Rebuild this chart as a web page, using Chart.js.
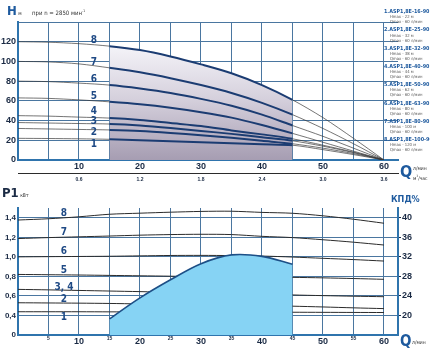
<!DOCTYPE html>
<html><head><meta charset="utf-8">
<script src="https://cdn.jsdelivr.net/npm/chart.js@4/dist/chart.umd.min.js"></script>
<style>
html,body{margin:0;padding:0;background:#fff;width:430px;height:353px;overflow:hidden;font-family:'DejaVu Sans',sans-serif;font-stretch:condensed}
#c1{position:absolute;left:0;top:0}
#c2{position:absolute;left:0;top:0}
.t{position:absolute;white-space:nowrap;color:#1e5a9e;font-weight:bold;line-height:1}
.n{position:absolute;color:#1f4a85;font-weight:bold;font-size:10px;line-height:1;transform:translate(-50%,-50%)}
.lg{position:absolute;left:384px;line-height:1;white-space:nowrap;font-family:'DejaVu Sans',sans-serif;font-stretch:condensed}
.lg b{display:block;color:#1e5a9e;font-size:5.4px}
.lg span{display:block;color:#555;font-size:4.2px;padding-left:6px;margin-top:0.8px}
</style></head><body>
<div style="position:absolute;left:0;top:0;width:430px;height:187px"><canvas id="c1" width="430" height="187"></canvas></div>
<div style="position:absolute;left:0;top:187px;width:430px;height:166px"><canvas id="c2" width="430" height="166"></canvas></div>
<div id="ann"></div>
<script>
// ---- data ----
const flowQ = [0,5,10,15,20,25,30,35,40,45,50,55,60];
const head1 = [22,21.8,21.5,21,20,19,18,17,16,15,10.5,5.5,0];
const head2 = [32,31.5,31,30.5,29.5,27.5,25,22.5,19.5,16.5,12,6.5,0];
const head3 = [38,37.5,37,36.5,35,32.5,29.5,26.5,23,19.5,14,7.5,0];
const head4 = [45,44.5,43.5,42.5,40.5,37.5,34.5,30,26,21.5,15,8,0];
const head5 = [63,62.5,61,59,56.5,53,48.5,43,35.5,27,18,9,0];
const head6 = [80,79.5,78,76,72.5,68,62,55,46,35,24,12,0];
const head7 = [100,99.5,97.5,93.5,89,83,76,68,58,46,32,16.5,0];
const head8 = [120,119.5,118,115.5,111.5,105,97,88,76,61,43,22,0];
const power1 = [0.438,0.438,0.438,0.437,0.436,0.436,0.435,0.435,0.434,0.433,0.432,0.431,0.43];
const power2 = [0.53,0.528,0.526,0.523,0.518,0.512,0.506,0.503,0.5,0.495,0.487,0.478,0.47];
const power34 = [0.667,0.662,0.656,0.65,0.644,0.638,0.633,0.628,0.62,0.61,0.603,0.597,0.592];
const power5 = [0.82,0.817,0.814,0.81,0.806,0.802,0.797,0.795,0.792,0.79,0.785,0.778,0.77];
const power6 = [1.0,1.002,1.004,1.006,1.01,1.014,1.015,1.013,1.008,0.998,0.985,0.972,0.957];
const power7 = [1.187,1.197,1.205,1.213,1.222,1.228,1.231,1.228,1.21,1.197,1.175,1.15,1.121];
const power8 = [1.377,1.39,1.41,1.436,1.447,1.457,1.465,1.467,1.455,1.446,1.42,1.385,1.344];
const effQ = [15,20,25,30,35,40,45];
const effVal = [19.3,23.6,27.3,30.6,32.4,32.1,30.5];
const models = ['16-90','25-90','32-90','40-90','50-90','63-90','80-90','100-90'];
const hmax = [22,32,38,44,62,80,100,120];
const qmax = [60,60,60,60,60,60,60,60];

const FONT = "'Liberation Sans','Arial',sans-serif";
const GRID = '#4a76a0';
const AXIS = '#2f74ad';
const TXT = '#1a2a44';
const pts = (xs, ys) => xs.map((x,i)=>({x, y: ys[i]}));
const slice = (xs, ys, a, b) => pts(xs, ys).filter(p => p.x >= a && p.x <= b);

const heads = [head1,head2,head3,head4,head5,head6,head7,head8];
const topSets = [];
heads.forEach(h => topSets.push({
  data: pts(flowQ, h), pointRadius: 0, fill: false, tension: 0.3,
  borderColor: '#1b3c72', borderWidth: 2,
  segment: {
    borderWidth: c => (c.p0.parsed.x >= 15 && c.p1.parsed.x <= 45) ? 2 : 0.7,
    borderColor: c => (c.p0.parsed.x >= 15 && c.p1.parsed.x <= 45) ? '#1b3c72' : '#3a3a3a'
  }
}));
topSets.push({
  data: slice(flowQ, head8, 15, 45), borderWidth: 0, pointRadius: 0, fill: 'origin', tension: 0.3,
  backgroundColor: (c) => {
    const ch = c.chart, a = ch.chartArea; if (!a) return '#ccc';
    const yTop = ch.scales.y.getPixelForValue(115);
    const g = ch.ctx.createLinearGradient(0, yTop, 0, a.bottom);
    g.addColorStop(0, '#f4f3f8'); g.addColorStop(0.45, '#d6d1dd'); g.addColorStop(1, '#a69db2');
    return g;
  }
});

new Chart(document.getElementById('c1'), {
  type: 'line',
  data: { datasets: topSets },
  options: {
    responsive: false, animation: false, events: [],
    layout: { padding: { top: 22, right: 32, left: 0, bottom: 2 } },
    plugins: { legend: { display: false }, tooltip: { enabled: false } },
    scales: {
      x: {
        type: 'linear', min: 0, max: 62.3, position: 'bottom',
        afterBuildTicks: s => { s.ticks = [0,5,10,15,20,25,30,35,40,45,50,55,60].map(v=>({value:v})); },
        afterFit: s => { s.height = 13; },
        ticks: { color: TXT, font: { family: FONT, size: 9, weight: 'bold' }, padding: 1, maxRotation: 0, autoSkip: false,
          callback: v => (v % 10 === 0 && v > 0) ? String(v) : '' },
        grid: { color: GRID, lineWidth: 1, drawTicks: false },
        border: { color: AXIS, width: 2 }
      },
      x2: {
        type: 'linear', min: 0, max: 62.3, position: 'bottom',
        afterBuildTicks: s => { s.ticks = [10,20,30,40,50,60].map(v=>({value:v})); },
        afterFit: s => { s.height = 12; },
        ticks: { color: TXT, font: { family: FONT, size: 5, weight: 'bold' }, padding: 4, maxRotation: 0, autoSkip: false,
          callback: v => (v * 0.06).toFixed(1) },
        grid: { display: false, drawTicks: false },
        border: { color: '#2b2b2b', width: 1 }
      },
      y: {
        type: 'linear', min: 0, max: 140,
        afterBuildTicks: s => { const t=[]; for (let v=0; v<=140; v+=10) t.push({value:v}); s.ticks = t; },
        afterFit: s => { s.width = 18; },
        ticks: { color: TXT, font: { family: FONT, size: 9, weight: 'bold' }, padding: 2,
          callback: v => (v % 20 === 0 && v <= 120) ? String(v) : '' },
        grid: { color: GRID, lineWidth: 1, drawTicks: false },
        border: { color: AXIS, width: 2 }
      }
    }
  }
});

const powers = [power1,power2,power34,power5,power6,power7,power8];
const botSets = [{
  data: pts(effQ, effVal), yAxisID: 'y2', pointRadius: 0, tension: 0.35, fill: 'start',
  backgroundColor: '#86d3f4', borderColor: '#1d4f86', borderWidth: 1.6
}];
powers.forEach(p => botSets.push({
  data: pts(flowQ, p), yAxisID: 'y', pointRadius: 0, tension: 0.3, fill: false,
  borderColor: '#2b2b2b', borderWidth: 1
}));

new Chart(document.getElementById('c2'), {
  type: 'line',
  data: { datasets: botSets },
  options: {
    responsive: false, animation: false, events: [],
    layout: { padding: { top: 21, right: 0, left: 0, bottom: 0 } },
    plugins: { legend: { display: false }, tooltip: { enabled: false } },
    scales: {
      x: {
        type: 'linear', min: 0, max: 62.3,
        afterBuildTicks: s => { s.ticks = [0,5,10,15,20,25,30,35,40,45,50,55,60].map(v=>({value:v})); },
        afterFit: s => { s.height = 18; },
        ticks: { color: TXT, padding: 1, maxRotation: 0, autoSkip: false,
          font: c => (c.tick && c.tick.value % 10 === 0) ? { family: FONT, size: 9, weight: 'bold' } : { family: FONT, size: 5, weight: 'bold' },
          callback: v => v > 0 ? String(v) : '' },
        grid: { color: GRID, lineWidth: 1, drawTicks: false },
        border: { color: AXIS, width: 2 }
      },
      y: {
        type: 'linear', min: 0.2, max: 1.5, position: 'left',
        afterBuildTicks: s => { const t=[]; for (let i=2; i<=15; i++) t.push({value:i/10}); s.ticks = t; },
        afterFit: s => { s.width = 18; },
        ticks: { color: TXT, font: { family: FONT, size: 8, weight: 'bold' }, padding: 2,
          callback: v => { const k = Math.round(v*10); if (k === 2) return '0'; if (k % 2 === 0 && k <= 14) return (k/10).toFixed(1).replace('.', ','); return ''; } },
        grid: { color: GRID, lineWidth: 1, drawTicks: false },
        border: { color: AXIS, width: 2 }
      },
      y2: {
        type: 'linear', min: 16, max: 42, position: 'right',
        afterBuildTicks: s => { s.ticks = [20,24,28,32,36,40].map(v=>({value:v})); },
        afterFit: s => { s.width = 32; },
        ticks: { color: TXT, font: { family: FONT, size: 9, weight: 'bold' }, padding: 1, callback: v => String(v) },
        grid: { drawOnChartArea: false, drawTicks: true, tickLength: 3, color: '#1a2a44' },
        border: { color: AXIS, width: 2 }
      }
    }
  }
});

// ---- annotations ----
const ann = document.getElementById('ann');
function add(html, cls, style) { const d = document.createElement('div'); d.className = cls; d.innerHTML = html; d.style.cssText = style; ann.appendChild(d); }
add('H<span style="font-size:5px;font-weight:normal;color:#333"> м</span>', 't', 'left:7px;top:4px;font-size:13px');
add('при n = 2850 мин<sup style="font-size:3.5px">-1</sup>', 't', 'left:32px;top:10px;font-size:6px;font-weight:normal;color:#333');
add('P1<span style="font-size:5px;font-weight:normal;color:#333"> кВт</span>', 't', 'left:2px;top:186px;font-size:13px;color:#1a2a44');
add('КПД%', 't', 'left:391px;top:195px;font-size:9px');
add('Q', 't', 'left:400px;top:164px;font-size:16px');
add('л/мин', 't', 'left:413px;top:166px;font-size:5px;font-weight:normal;color:#333');
add('м<sup style="font-size:3px">3</sup>/час', 't', 'left:413px;top:175px;font-size:5px;font-weight:normal;color:#333');
add('Q', 't', 'left:400px;top:334px;font-size:15px');
add('л/мин', 't', 'left:412px;top:340px;font-size:5px;font-weight:normal;color:#333');
const topLab = [[1,144],[2,132],[3,121],[4,111],[5,96],[6,79],[7,62],[8,40]];
topLab.forEach(([n,y]) => add(String(n), 'n', `left:94px;top:${y}px`));
const botLab = [['1',317],['2',299],['3, 4',287],['5',270],['6',251],['7',232],['8',213]];
botLab.forEach(([n,y]) => add(n, 'n', `left:64px;top:${y}px`));
models.forEach((m,i) => {
  add(`<b>${i+1}.ASP1,8E-${m}</b><span>Hmax - ${hmax[i]} м</span><span>Qmax - ${qmax[i]} л/мин</span>`, 'lg', `top:${9 + i*18.3}px`);
});
</script>
</body></html>
